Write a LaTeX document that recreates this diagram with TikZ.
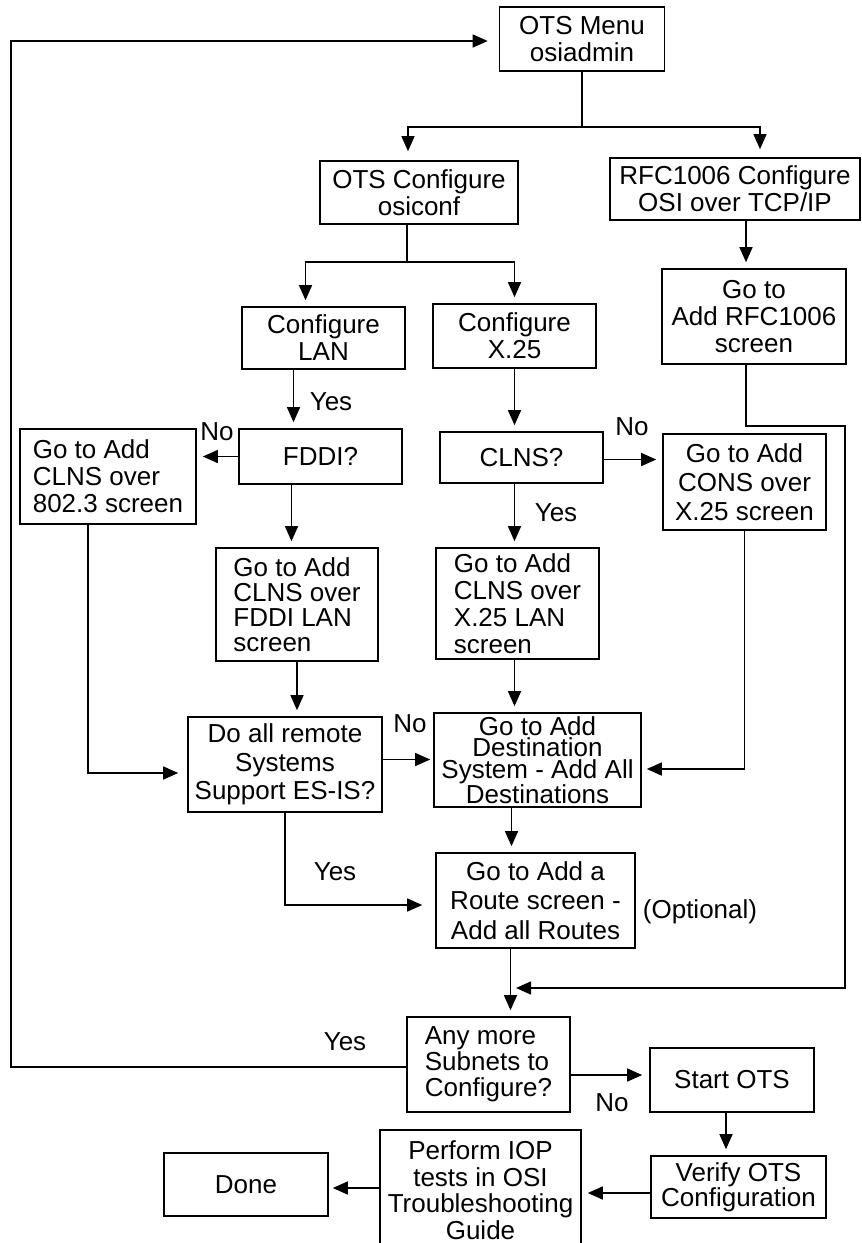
\documentclass[tikz,border=0pt]{standalone}
\usepackage{fontspec}
\setmainfont{Liberation Sans}
\usetikzlibrary{arrows.meta}
\begin{document}
\begin{tikzpicture}[x=1pt,y=-1pt,line width=1.4pt,>={Triangle[length=15pt,width=13pt]},
  every node/.style={font=\fontsize{26}{27}\selectfont},
  box/.style 2 args={draw,line width=1.6pt,inner sep=0pt,align=center,minimum width=#1,minimum height=#2},
  flow/.style={->,shorten >=6pt}]
\useasboundingbox (0,0) rectangle (862,1243);
% boxes
\node[box={165pt}{64pt}] (menu) at (582,39) {OTS Menu\\osiadmin};
\node[box={198pt}{63pt}] (otsconf) at (419,192.5) {OTS Configure\\osiconf};
\node[box={250pt}{62pt}] (rfc) at (735,189) {RFC1006 Configure\\OSI over TCP/IP};
\node[box={163pt}{62pt}] (lan) at (323.5,338) {Configure\\LAN};
\node[box={163pt}{64pt}] (xtf) at (514.5,336) {Configure\\X.25};
\node[box={184pt}{95pt}] (rfcscr) at (754,316.5) {Go to\\Add RFC1006\\screen};
\node[box={176pt}{95pt},align=left] (clns8023) at (108,476.5) {Go to Add\\CLNS over\\802.3 screen};
\node[box={163pt}{55pt}] (fddi) at (320.5,456.5) {FDDI?};
\node[box={163pt}{51pt}] (clnsq) at (521.5,457.5) {CLNS?};
\node[box={163pt}{96pt},font=\fontsize{26}{29}\selectfont] (cons) at (744.5,482) {Go to Add\\CONS over\\X.25 screen};
\node[box={162pt}{113pt},align=left,font=\fontsize{26}{25}\selectfont] (fddilan) at (297,604.5) {Go to Add\\CLNS over\\FDDI LAN\\screen};
\node[box={163pt}{111pt},align=left] (x25lan) at (517.5,603.5) {Go to Add\\CLNS over\\X.25 LAN\\screen};
\node[box={194pt}{95pt},font=\fontsize{26}{28.5}\selectfont] (esis) at (285,764.5) {Do all remote\\Systems\\Support ES-IS?};
\node[box={207pt}{94pt},font=\fontsize{26}{21.5}\selectfont] (dest) at (537.5,760) {Go to Add\\Destination\\System - Add All\\Destinations};
\node[box={199pt}{95pt},font=\fontsize{26}{29.5}\selectfont] (route) at (535.5,900.5) {Go to Add a\\Route screen -\\Add all Routes};
\node (optional) at (700,912) {(Optional)};
\node[box={163pt}{95pt},align=left,font=\fontsize{26}{26}\selectfont] (more) at (488.5,1064.5) {Any more\\Subnets to\\Configure?};
\node[box={164pt}{64pt}] (start) at (732,1080) {Start OTS};
\node[box={175pt}{62pt},font=\fontsize{26}{22}\selectfont] (verify) at (738.5,1187) {Verify OTS\\Configuration};
\node[box={201pt}{120pt},font=\fontsize{26}{26.5}\selectfont] (iop) at (480.5,1190) {Perform IOP\\tests in OSI\\Troubleshooting\\Guide};
\node[box={164pt}{63pt}] (done) at (246,1184.5) {Done};
% branch points
\coordinate (fork1) at (582,127);
\coordinate (fork2) at (407,262);
\coordinate (bend) at (845,426);
\coordinate (join) at (510,988);
\coordinate (loop) at (11,41);
% connectors
\draw (menu) -- (fork1);
\draw[flow,shorten >=9pt] (fork1) -| ([xshift=-11pt]otsconf.north);
\draw[flow,shorten >=8pt] (fork1) -| ([xshift=25pt]rfc.north);
\draw ([xshift=-12pt]otsconf.south) -- (fork2);
\draw[flow] (fork2) -| ([xshift=-18pt]lan.north);
\draw[flow] (fork2) -| (xtf.north);
\draw[flow] ([xshift=-8pt]rfcscr.north |- rfc.south) -- ([xshift=-8pt]rfcscr.north);
\draw[flow] ([xshift=-30pt]lan.south) -- ([xshift=-30pt]lan.south |- fddi.north);
\draw[flow] (xtf.south) -- (xtf.south |- clnsq.north);
\draw[flow] ([xshift=-8pt]rfcscr.south) |- (bend) |- (join);
\draw[flow] (fddi) -- (fddi -| clns8023.east);
\draw[flow] ([yshift=-2pt]clnsq.east) -- ([yshift=-2pt]clnsq.east -| cons.west);
\draw[flow] ([xshift=-29pt]fddi.south) -- ([xshift=-29pt]fddi.south |- fddilan.north);
\draw[flow] ([xshift=-7pt]clnsq.south) -- ([xshift=-7pt]clnsq.south |- x25lan.north);
\draw[flow,shorten >=9pt] ([xshift=-20pt]clns8023.south) |- ([yshift=-8.5pt]esis.west);
\draw[flow] (fddilan) -- (fddilan |- esis.north);
\draw[flow] ([xshift=-3pt]x25lan.south) -- ([xshift=-3pt]x25lan.south |- dest.north);
\draw[flow,shorten >=3pt] ([yshift=5pt]esis.east) -- ([yshift=5pt]esis.east -| dest.west);
\draw[flow,shorten >=5pt] (cons) |- ([yshift=-9pt]dest.east);
\draw[flow,shorten >=13pt] (esis) |- ([yshift=-4.5pt]route.west);
\draw[flow] ([xshift=-26pt]dest.south) -- ([xshift=-26pt]dest.south |- route.north);
\draw[flow] ([xshift=-25pt]route.south) -- ([xshift=-25pt]route.south |- more.north);
\draw[flow,shorten >=11pt] ([yshift=-2.5pt]more.west) -| (loop) -- (loop -| menu.west);
\draw[flow,shorten >=7pt] ([yshift=-10.5pt]more.east) -- ([yshift=-10.5pt]more.east -| start.west);
\draw[flow] ([xshift=-6pt]start.south) -- ([xshift=-6pt]start.south |- verify.north);
\draw[flow] ([yshift=-6pt]verify.west) -- ([yshift=-6pt]verify.west -| iop.east);
\draw[flow,shorten >=4pt] ([yshift=2pt]iop.west) -- ([yshift=2pt]iop.west -| done.east);
% labels
\node at (331,402) {Yes};
\node at (217,432) {No};
\node at (632,427) {No};
\node at (556,513) {Yes};
\node at (410,724) {No};
\node at (335,872) {Yes};
\node at (345,1042) {Yes};
\node at (612,1103) {No};
\end{tikzpicture}
\end{document}
